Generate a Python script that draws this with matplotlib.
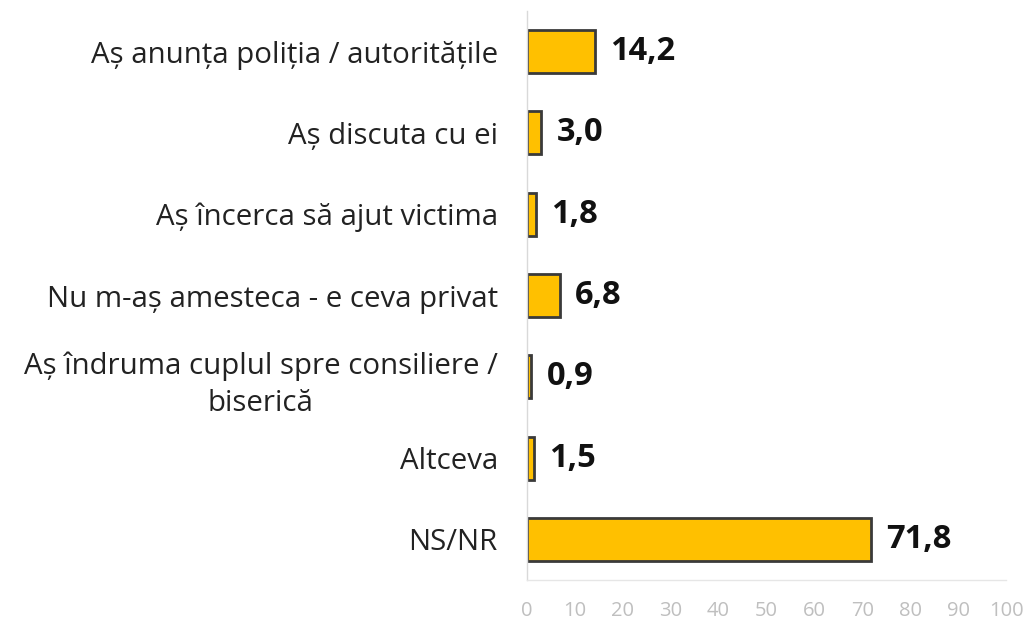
import matplotlib
matplotlib.use("Agg")
import matplotlib.pyplot as plt

categories = [
    "Aș anunța poliția / autoritățile",
    "Aș discuta cu ei",
    "Aș încerca să ajut victima",
    "Nu m-aș amesteca - e ceva privat",
    "Aș îndruma cuplul spre consiliere /\nbiserică",
    "Altceva",
    "NS/NR",
]
values = [14.2, 3.0, 1.8, 6.8, 0.9, 1.5, 71.8]
value_labels = ["14,2", "3,0", "1,8", "6,8", "0,9", "1,5", "71,8"]
xticks = [0, 10, 20, 30, 40, 50, 60, 70, 80, 90, 100]

plt.rcParams['font.family'] = ['Open Sans', 'DejaVu Sans']

fig = plt.figure(figsize=(10.3, 6.22), dpi=100)
ax = fig.add_axes([527/1030, 1 - 580/622, (1006-527)/1030, (580-11)/622])

y = list(range(len(categories)))
ax.barh(y, values, height=0.53, color="#FFC000", edgecolor="#3A3A3A", linewidth=2.0)
for yi, v, lab in zip(y, values, value_labels):
    ax.annotate(lab, (v, yi), xytext=(11, 0), textcoords="offset points",
                va="center", ha="left", fontsize=23.5, fontweight="bold", color="#111111")

ax.set_ylim(len(categories) - 0.5, -0.5)
ax.set_xlim(0, 100)
ax.set_yticks(y)
ax.set_yticklabels(categories, fontsize=21.2, color="#222222",
                   multialignment="center", linespacing=1.4)
ax.set_xticks(xticks)
ax.set_xticklabels([str(t) for t in xticks], fontsize=14.5, color="#BFBFBF")
ax.tick_params(axis="y", length=0, pad=21)
ax.tick_params(axis="x", length=0, pad=15)
for s in ["top", "right"]:
    ax.spines[s].set_visible(False)
ax.spines["left"].set_color("#D9D9D9")
ax.spines["bottom"].set_color("#E6E6E6")
ax.spines["left"].set_linewidth(1.0)
ax.spines["bottom"].set_linewidth(1.0)

fig.savefig("out.png", dpi=100)
